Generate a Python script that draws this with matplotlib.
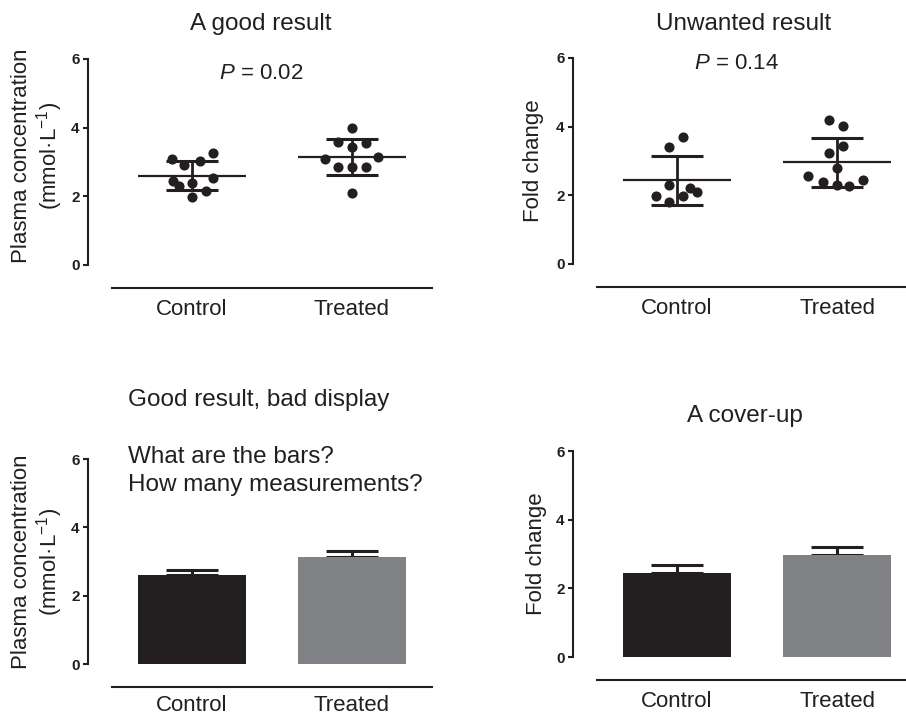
import numpy as np
import matplotlib
matplotlib.use("Agg")
import matplotlib.pyplot as plt

plt.rcParams["font.family"] = ["Liberation Sans", "DejaVu Sans"]
plt.rcParams["mathtext.fontset"] = "custom"
plt.rcParams["mathtext.rm"] = "Liberation Sans"
plt.rcParams["mathtext.it"] = "Liberation Sans:italic"

INK = "#231f20"
GREY = "#808285"

# Measurements per group

groups = ["Control", "Treated"]

plasma_control = [3.08, 2.90, 3.02, 3.25, 2.44, 2.30, 2.40, 2.53, 1.97, 2.15]
plasma_treated = [3.98, 3.57, 3.43, 3.55, 3.08, 3.14, 2.85, 2.85, 2.85, 2.09]

fold_control = [3.41, 3.70, 2.30, 1.98, 1.98, 2.20, 2.10, 1.80]
fold_treated = [4.19, 4.02, 3.44, 3.23, 2.80, 2.56, 2.39, 2.30, 2.28, 2.45]

# Horizontal scatter so overlapping points stay visible

plasma_control_jitter = [-0.125, -0.05, 0.05, 0.13, -0.12, -0.08, 0.0, 0.13, 0.0, 0.09]
plasma_treated_jitter = [0.0, -0.085, 0.0, 0.09, -0.17, 0.165, -0.085, 0.0, 0.085, 0.0]
fold_control_jitter = [-0.05, 0.04, -0.05, -0.13, 0.04, 0.08, 0.125, -0.05]
fold_treated_jitter = [-0.05, 0.04, 0.04, -0.05, 0.0, -0.18, -0.09, 0.0, 0.075, 0.165]

y_ticks = [0, 2, 4, 6]

plasma_label = "Plasma concentration\n(mmol·L$^{-1}$)"
fold_label = "Fold change"


def style_axes(ax, label_pad=8):

    ax.set_xlim(-0.65, 1.55)
    ax.set_ylim(0, 6)

    for side in ["top", "right"]:
        ax.spines[side].set_visible(False)

    ax.spines["left"].set_bounds(0, 6)
    ax.spines["left"].set_linewidth(1.5)
    ax.spines["left"].set_color(INK)

    ax.spines["bottom"].set_position(("outward", 16.5))
    ax.spines["bottom"].set_bounds(-0.5, 1.5)
    ax.spines["bottom"].set_linewidth(1.5)
    ax.spines["bottom"].set_color(INK)

    ax.set_yticks(y_ticks)
    ax.set_yticklabels([str(t) for t in y_ticks], fontweight="bold", fontsize=11, color=INK)
    ax.tick_params(axis="y", length=3.5, width=1.5, pad=2.5, color=INK)

    ax.set_xticks([0, 1])
    ax.set_xticklabels(groups, fontsize=16, color=INK)
    ax.tick_params(axis="x", length=0, pad=label_pad)

    ax.patch.set_visible(False)


def dot_plot(ax, samples, jitters):

    for i, (vals, jit) in enumerate(zip(samples, jitters)):

        vals = np.asarray(vals)
        mean = vals.mean()
        sd = vals.std(ddof=1)

        ax.plot(i + np.asarray(jit), vals, "o", color=INK, markersize=7.3,
                markeredgewidth=0, clip_on=False, zorder=3)

        ax.hlines(mean, i - 0.335, i + 0.335, color=INK, linewidth=1.6, zorder=2)
        ax.vlines(i, mean - sd, mean + sd, color=INK, linewidth=2.0, zorder=2)
        ax.hlines([mean - sd, mean + sd], i - 0.165, i + 0.165, color=INK,
                  linewidth=2.2, zorder=2)


def bar_plot(ax, samples):

    means = [np.mean(v) for v in samples]
    sems = [np.std(v, ddof=1) / np.sqrt(len(v)) for v in samples]

    ax.errorbar([0, 1], means, yerr=[[0, 0], sems], fmt="none", ecolor=INK,
                elinewidth=2.2, capsize=18.5, capthick=2.2, zorder=1)

    ax.bar([0, 1], means, width=0.67, color=[INK, GREY], zorder=2)


fig = plt.figure(figsize=(9.06, 7.16), dpi=100)

ax_good = fig.add_axes([0.0971, 0.6299, 0.3885, 0.2877])
ax_unw = fig.add_axes([0.6325, 0.6313, 0.3885, 0.2877])
ax_bad = fig.add_axes([0.0971, 0.0726, 0.3885, 0.2863])
ax_cover = fig.add_axes([0.6325, 0.0824, 0.3885, 0.2877])

style_axes(ax_good)
style_axes(ax_unw)
style_axes(ax_bad, label_pad=5.5)
style_axes(ax_cover)

# Top row: individual points with mean and SD

dot_plot(ax_good, [plasma_control, plasma_treated],
         [plasma_control_jitter, plasma_treated_jitter])

dot_plot(ax_unw, [fold_control, fold_treated],
         [fold_control_jitter, fold_treated_jitter])

ax_good.text(0.43, 5.59, "$P$ = 0.02", fontsize=16, color=INK, ha="center", va="center")
ax_unw.text(0.37, 5.83, "$P$ = 0.14", fontsize=16, color=INK, ha="center", va="center")

# Bottom row: same data as bars with SEM

bar_plot(ax_bad, [plasma_control, plasma_treated])
bar_plot(ax_cover, [fold_control, fold_treated])

# Axis labels

for ax, label, x, y in [
    (ax_good, plasma_label, -0.143, 0.53),
    (ax_unw, fold_label, -0.112, 0.5),
    (ax_bad, plasma_label, -0.143, 0.5),
    (ax_cover, fold_label, -0.105, 0.5),
]:
    ax.text(x, y, label, transform=ax.transAxes, rotation=90, fontsize=16,
            color=INK, ha="center", va="center", multialignment="center",
            linespacing=1.1)

# Panel titles

fig.text(0.288, 0.967, "A good result", fontsize=17.5, color=INK, ha="center", va="center")
fig.text(0.821, 0.967, "Unwanted result", fontsize=17.5, color=INK, ha="center", va="center")
fig.text(0.1413, 0.4413, "Good result, bad display", fontsize=17.5, color=INK,
         ha="left", va="center")
fig.text(0.1413, 0.3617, "What are the bars?", fontsize=17.5, color=INK,
         ha="left", va="center")
fig.text(0.1413, 0.3226, "How many measurements?", fontsize=17.5, color=INK,
         ha="left", va="center")
fig.text(0.822, 0.419, "A cover-up", fontsize=17.5, color=INK, ha="center", va="center")

fig.savefig("out.png", dpi=100)
